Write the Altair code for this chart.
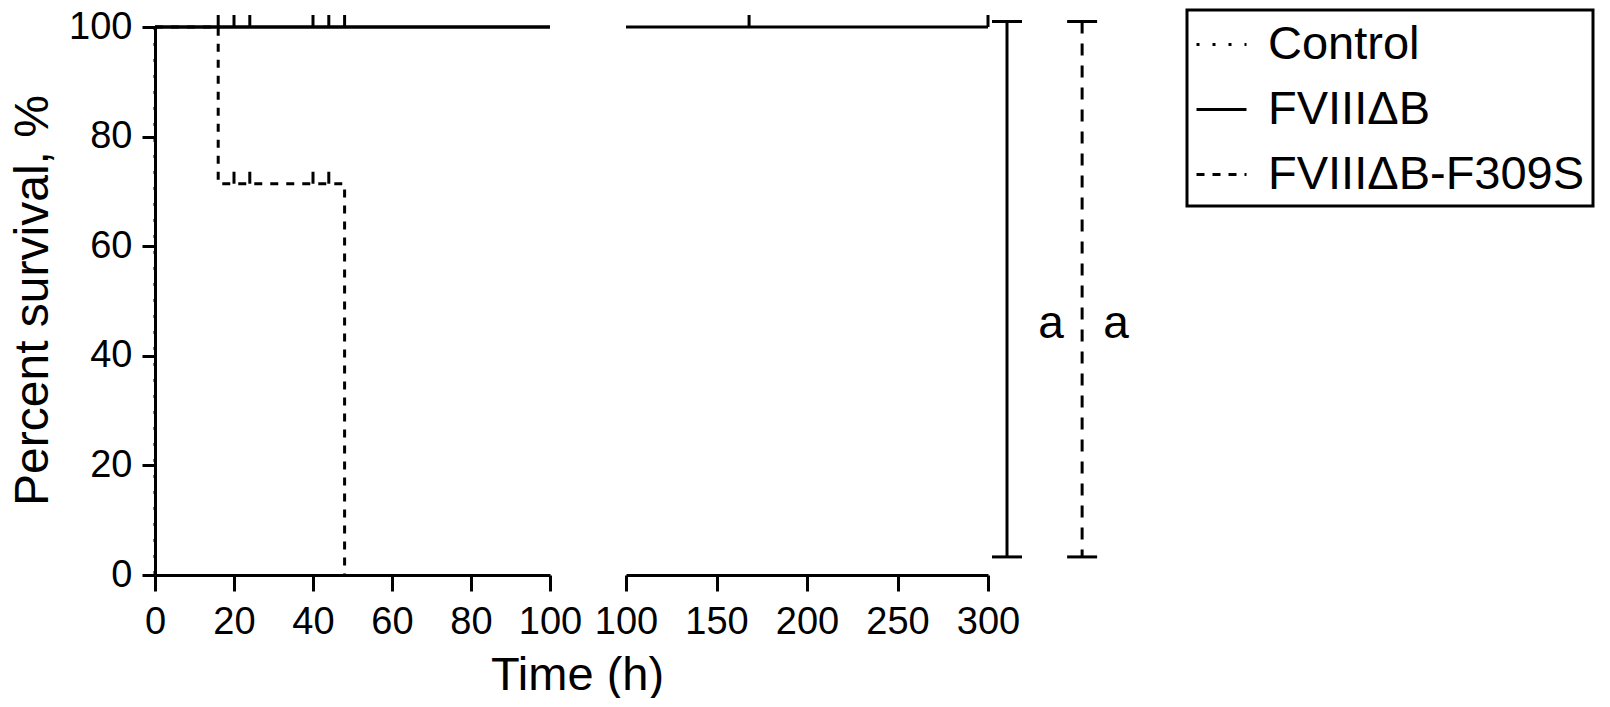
import altair as alt
import pandas as pd

# ---- data ----
series_names = ["Control", "FVIIIΔB", "FVIIIΔB-F309S"]

control_time = [0, 0]
control_surv = [100, 0]

fviii_time = [0, 100, 300]
fviii_surv = [100, 100, 100]

f309s_time = [0, 16, 16, 48, 48]
f309s_surv = [100, 100, 71.4, 71.4, 0]

fviii_censor_time = [16, 20, 24, 40, 44, 48, 168, 300]
fviii_censor_surv = [100, 100, 100, 100, 100, 100, 100, 100]
f309s_censor_time = [20, 24, 40, 44]
f309s_censor_surv = [71.4, 71.4, 71.4, 71.4]

left_ticks = [0, 20, 40, 60, 80, 100]
right_ticks = [100, 150, 200, 250, 300]
y_ticks = [0, 20, 40, 60, 80, 100]

# significance brackets (annotation, in right-panel axis units)
bracket_x = [310.5, 352]
bracket_style = ["solid", "dashed"]
bracket_top = 101
bracket_bottom = 3.3
bracket_label = ["a", "a"]
bracket_label_x = [334.8, 370.7]
bracket_label_y = 43.2

FONT = "Liberation Sans"

# ---- build tables ----
def line_rows(name, ts, ss):
    return [{"series": name, "t": t, "s": s, "i": i} for i, (t, s) in enumerate(zip(ts, ss))]

rows = (line_rows("Control", control_time, control_surv)
        + line_rows("FVIIIΔB-F309S", f309s_time, f309s_surv)
        + line_rows("FVIIIΔB", fviii_time, fviii_surv))
lines = pd.DataFrame(rows)
left_lines = lines[lines.t <= 100]
right_lines = lines[lines.t >= 100]
left_solid = left_lines[left_lines.series == "FVIIIΔB"]

cens = pd.DataFrame(
    [{"t": t, "s": s} for t, s in zip(fviii_censor_time, fviii_censor_surv)]
    + [{"t": t, "s": s} for t, s in zip(f309s_censor_time, f309s_censor_surv)]
)
left_cens = cens[cens.t <= 100]
right_cens = cens[cens.t > 100]

brackets = pd.DataFrame({"x": bracket_x, "style": bracket_style,
                         "top": [bracket_top] * 2, "bottom": [bracket_bottom] * 2})
caps = pd.DataFrame({"x": bracket_x * 2,
                     "y": [bracket_top] * 2 + [bracket_bottom] * 2})
labels = pd.DataFrame({"x": bracket_label_x, "y": [bracket_label_y] * 2, "txt": bracket_label})

yscale = alt.Scale(domain=[0, 100], nice=False, zero=False)

dash = alt.StrokeDash(
    "series:N",
    scale=alt.Scale(domain=series_names, range=[[3, 13], [1, 0], [8, 8]]),
    legend=alt.Legend(
        title=None, orient="none", legendX=1032, legendY=-17,
        symbolType="stroke", symbolSize=2500, symbolStrokeWidth=3,
        symbolStrokeColor="black", labelFontSize=47, labelFont=FONT,
        labelColor="black", labelLimit=600, padding=8, rowPadding=15,
        labelOffset=20, strokeColor="black",
    ),
)

# ---- left panel ----
lx = alt.X("t:Q", scale=alt.Scale(domain=[0, 100], nice=False),
           axis=alt.Axis(values=left_ticks, title="Time (h)", titleX=422, titleY=114,
                         titleBaseline="alphabetic", titleFontSize=47,
                         titleFont=FONT, titleFontWeight="normal", titleColor="black"))
ly = alt.Y("s:Q", scale=yscale,
           axis=alt.Axis(values=y_ticks, title="Percent survival, %", titleX=-108,
                         titleY=273, titleAngle=-90, titleBaseline="alphabetic",
                         titleAlign="center", titleFontSize=48, titleFont=FONT,
                         titleFontWeight="normal", titleColor="black",
                         tickSize=13, labelPadding=10))

left_line = alt.Chart(left_lines).mark_line(color="black", strokeWidth=3).encode(
    x=lx, y=ly, strokeDash=dash, order=alt.Order("i:Q"))
left_top = alt.Chart(left_solid).mark_line(color="black", strokeWidth=3).encode(
    x="t:Q", y="s:Q", order=alt.Order("i:Q"))
left_tick = alt.Chart(left_cens).mark_rule(color="black", strokeWidth=3, y2Offset=-12).encode(
    x="t:Q", y="s:Q", y2="s:Q")
left = alt.layer(left_line, left_top, left_tick).properties(width=395, height=548)

# ---- right panel ----
rx = alt.X("t:Q", scale=alt.Scale(domain=[100, 300], nice=False),
           axis=alt.Axis(values=right_ticks, title=None))
ry = alt.Y("s:Q", scale=yscale, axis=None)

right_line = alt.Chart(right_lines).mark_line(color="black", strokeWidth=3).encode(
    x=rx, y=ry, strokeDash=dash, order=alt.Order("i:Q"))
right_tick = alt.Chart(right_cens).mark_rule(color="black", strokeWidth=3, y2Offset=-12).encode(
    x="t:Q", y="s:Q", y2="s:Q")
br_solid = alt.Chart(brackets[brackets["style"] == "solid"]).mark_rule(
    color="black", strokeWidth=3).encode(x="x:Q", y="top:Q", y2="bottom:Q")
br_dash = alt.Chart(brackets[brackets["style"] == "dashed"]).mark_rule(
    color="black", strokeWidth=3, strokeDash=[12, 10]).encode(x="x:Q", y="top:Q", y2="bottom:Q")
br_caps = alt.Chart(caps).mark_rule(color="black", strokeWidth=3, xOffset=-15, x2Offset=15).encode(
    x="x:Q", x2="x:Q", y="y:Q")
br_text = alt.Chart(labels).mark_text(fontSize=46, font=FONT, baseline="alphabetic",
                                      color="black").encode(x="x:Q", y="y:Q", text="txt:N")
right = alt.layer(right_line, right_tick, br_solid, br_dash, br_caps, br_text).properties(
    width=362, height=548)

chart = (
    alt.hconcat(left, right, spacing=76, bounds="flush")
    .properties(padding=0)
    .configure(font=FONT)
    .configure_view(stroke=None)
    .configure_legend(strokeWidth=3)
    .configure_axis(
        grid=False, domainColor="black", domainWidth=3, tickColor="black",
        tickWidth=3, tickSize=16, labelFont=FONT, labelFontSize=38,
        labelColor="black", labelPadding=12, labelFlush=False, zindex=1,
    )
)

chart.save("out.html", embed_options={"renderer": "svg", "actions": False})
